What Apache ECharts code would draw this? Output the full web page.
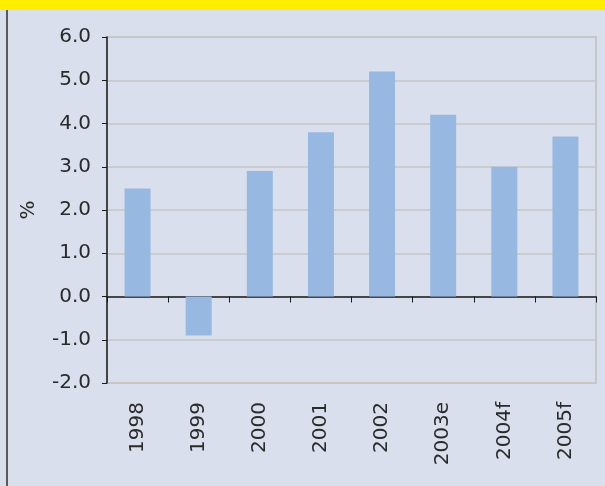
<!DOCTYPE html>
<html>
<head>
<meta charset="utf-8">
<script src="https://cdn.jsdelivr.net/npm/echarts@6/dist/echarts.min.js"></script>
<style>
  html, body { margin: 0; padding: 0; background: #dadfee; }
  #chart { width: 605px; height: 486px; }
</style>
</head>
<body>
<div id="chart"></div>
<script>
// growth, per cent
const years = ['1998', '1999', '2000', '2001', '2002', '2003e', '2004f', '2005f'];
const growth = [2.5, -0.9, 2.9, 3.8, 5.2, 4.2, 3.0, 3.7];
const yTicks = { min: -2, max: 6, step: 1 };

const font = 'DejaVu Sans';
const myChart = echarts.init(document.getElementById('chart'));

const option = {
	backgroundColor: '#dadfee',
	animation: false,
	graphic: [
		// yellow band on top and the left frame line
		{ type: 'rect', left: 0, top: 0, shape: { width: 605, height: 10 }, style: { fill: '#ffee00' } },
		{ type: 'rect', left: 6, top: 10, shape: { width: 2, height: 476 }, style: { fill: '#5a5a5a' } }
	],
	grid: {
		left: 107, right: 9, top: 37, bottom: 103,
		show: true, borderColor: '#c6c6c6', borderWidth: 2,
		containLabel: false
	},
	xAxis: [
		{
			type: 'category',
			data: years,
			position: 'bottom',
			axisLine: { onZero: true, lineStyle: { color: '#1a1a1a', width: 1.5 } },
			axisTick: { show: true, length: 6, lineStyle: { color: '#1a1a1a' } },
			axisLabel: { show: false }
		},
		{
			type: 'category',
			data: years,
			position: 'bottom',
			axisLine: { show: false, onZero: false },
			axisTick: { show: false },
			axisLabel: {
				rotate: 90, margin: 19,
				color: '#2a2a2a', fontFamily: font, fontSize: 20
			}
		}
	],
	yAxis: {
		type: 'value',
		min: yTicks.min, max: yTicks.max, interval: yTicks.step,
		name: '%',
		nameLocation: 'middle',
		nameGap: 68,
		nameRotate: 90,
		nameTextStyle: { color: '#2a2a2a', fontFamily: font, fontSize: 20 },
		axisLine: { show: true, lineStyle: { color: '#1a1a1a', width: 1.5 } },
		axisTick: { show: true, length: 5, lineStyle: { color: '#1a1a1a' } },
		axisLabel: {
			margin: 16,
			color: '#2a2a2a', fontFamily: font, fontSize: 20,
			formatter: (v) => v.toFixed(1)
		},
		splitLine: { lineStyle: { color: '#c6c6c6', width: 1.5 } }
	},
	series: [
		{
			type: 'bar',
			data: growth,
			xAxisIndex: 0,
			barWidth: 26,
			itemStyle: { color: '#97b8e0' }
		}
	]
};

myChart.setOption(option);
</script>
</body>
</html>
